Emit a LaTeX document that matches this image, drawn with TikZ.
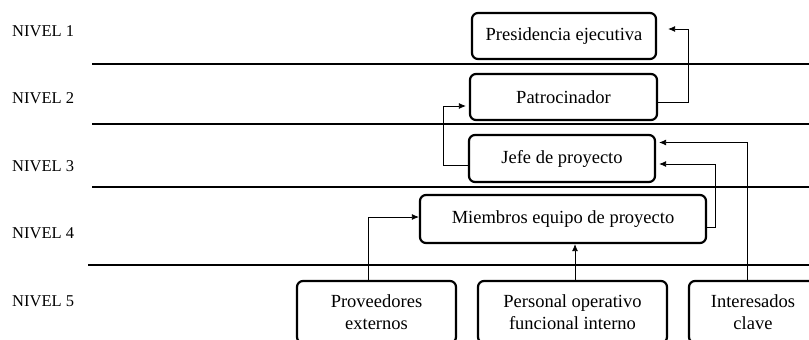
\documentclass[tikz,border=0pt]{standalone}
\usepackage{fontspec}
\setmainfont{Liberation Serif}
\usetikzlibrary{arrows.meta}
\tikzset{
  % node options
  box/.style={rectangle,draw,rounded corners=6pt,line width=2.2pt,align=center,
    inner sep=0pt,font=\fontsize{18.5}{22}\selectfont},
  level/.style={anchor=west,inner sep=0pt,font=\fontsize{16.5}{18}\selectfont},
  % path options
  flow/.style={-{Latex[length=7pt,width=6pt]},line width=0.8pt},
  divider/.style={line width=1.2pt},
}
\begin{document}
\begin{tikzpicture}[x=1pt,y=-1pt]
    \clip (0,0) rectangle (809,340);
    % levels
    \foreach \i/\y in {1/31,2/98,3/166,4/233,5/301}
      \node[level] (nivel\i) at (12,\y) {NIVEL \i};
    \draw[divider] (92,64) -- (809,64);
    \draw[divider] (92,124) -- (809,124);
    \draw[divider] (92,187) -- (809,187);
    \draw[divider] (88,265) -- (809,265);
    % roles
    \node[box,minimum width=184pt,minimum height=46pt] (presidencia) at (564,36) {Presidencia ejecutiva};
    \node[box,minimum width=187pt,minimum height=46pt] (patrocinador) at (563.5,97) {Patrocinador};
    \node[box,minimum width=186pt,minimum height=47pt] (jefe) at (562,158.5) {Jefe de proyecto};
    \node[box,minimum width=286pt,minimum height=48pt] (miembros) at (563,219) {Miembros equipo de proyecto};
    \node[box,minimum width=159pt,minimum height=62pt] (proveedores) at (376.5,312) {Proveedores\\externos};
    \node[box,minimum width=189pt,minimum height=62pt] (personal) at (572.5,312) {Personal operativo\\funcional interno};
    \node[box,minimum width=128pt,minimum height=62pt] (interesados) at (753,312) {Interesados\\clave};
    % reporting lines
    \draw[flow] ([yshift=-5pt]patrocinador.east) -- ++(30,0) |- ([xshift=11pt,yshift=7pt]presidencia.east);
    \draw[flow] ([yshift=-7pt]jefe.west) -- ++(-25,0) |- ([xshift=-3pt,yshift=-9pt]patrocinador.west);
    \draw[flow] ([xshift=-6pt]interesados.north) |- ([xshift=3pt,yshift=16pt]jefe.east);
    \draw[flow] ([yshift=-8pt]miembros.east) -- ++(8,0) |- ([xshift=3pt,yshift=-5.5pt]jefe.east);
    \draw[flow] ([xshift=-8.5pt]proveedores.north) |- ([yshift=2pt]miembros.west);
    \draw[flow] ([xshift=2.5pt]personal.north) -- ([xshift=2.5pt]personal.north |- miembros.south);
\end{tikzpicture}
\end{document}
